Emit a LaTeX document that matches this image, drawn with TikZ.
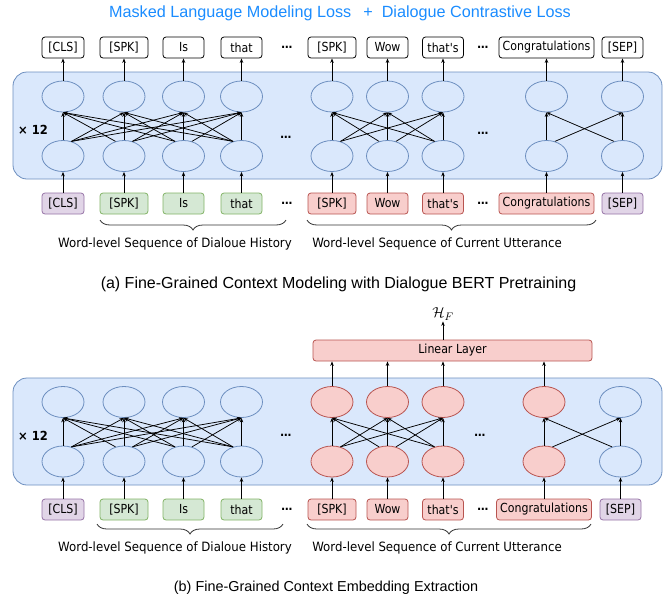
\documentclass[tikz,border=0pt]{standalone}
\usepackage{fontspec}
\setmainfont{Liberation Sans}
\newfontfamily\lbl[FakeStretch=0.92]{DejaVu Sans}
\newfontfamily\lbltok[FakeStretch=0.88]{DejaVu Sans}
\usetikzlibrary{shapes.geometric,arrows.meta,decorations.pathreplacing}
\definecolor{bfill}{HTML}{DAE8FC}
\definecolor{bline}{HTML}{6C8EBF}
\definecolor{rfill}{HTML}{F8CECC}
\definecolor{rline}{HTML}{B85450}
\definecolor{gfill}{HTML}{D5E8D4}
\definecolor{gline}{HTML}{82B366}
\definecolor{pfill}{HTML}{E1D5E7}
\definecolor{pline}{HTML}{9673A6}
\definecolor{ttl}{HTML}{1A8CFF}
\begin{document}
\begin{tikzpicture}[x=1pt,y=-1pt,
  panel/.style={draw=bline,fill=bfill,line width=0.8pt,rounded corners=14},
  cell/.style={ellipse,draw=bline,fill=bfill,line width=0.8pt,minimum width=42,minimum height=31,inner sep=0},
  rcell/.style={cell,draw=rline,fill=rfill},
  tok/.style={rectangle,rounded corners=3,line width=0.8pt,minimum height=21,inner sep=1,font=\lbltok\fontsize{12.5}{12.5}\selectfont},
  wtok/.style={tok,draw=black,fill=white},
  gtok/.style={tok,draw=gline,fill=gfill},
  ptok/.style={tok,draw=pline,fill=pfill},
  rtok/.style={tok,draw=rline,fill=rfill},
  arr/.style={-{Stealth[length=4.5pt,width=3.5pt]},line width=0.75pt},
  dots/.style={font=\lbl\bfseries\fontsize{12}{12}\selectfont,inner sep=0},
  lab/.style={font=\lbl\fontsize{12.8}{12.8}\selectfont,inner sep=0},
  brc/.style={decorate,decoration={brace,amplitude=10pt,mirror,aspect=0.5},line width=0.8pt,draw=black!80},
  captxt/.style={inner sep=0}
]
\useasboundingbox (0,0) rectangle (667,603);

% ================= (a) =================
\node[font=\fontsize{16.2}{16.2}\selectfont,text=ttl,inner sep=0] (title) at (340,13)
  {Masked Language Modeling Loss\hspace{12pt}+\hspace{9pt}Dialogue Contrastive Loss};

\draw[panel] (13,72) rectangle (662,179);
\node[font=\lbl\bfseries\fontsize{12.5}{12.5}\selectfont,inner sep=0] (a-x) at (33,130) {× 12};

\foreach \i/\x/\w/\t/\s in {1/63/42/[CLS]/ptok,2/124/48/[SPK]/gtok,3/183.5/41/Is/gtok,4/241.5/41/that/gtok,
  5/332/48/[SPK]/rtok,6/387.5/41/Wow/rtok,7/443/41/that's/rtok,8/546.5/95/Congratulations/rtok,9/622.5/41/[SEP]/ptok}{
  \node[wtok,minimum width=\w] (a-out-\i) at (\x,47.5) {\t};
  \node[cell] (a-up-\i) at (\x,96.5) {};
  \node[cell] (a-lo-\i) at (\x,156) {};
  \node[\s,minimum width=\w] (a-in-\i) at (\x,203.5) {\t};
  \draw[arr] (a-in-\i) -- (a-lo-\i);
  \draw[arr] (a-up-\i) -- (a-out-\i);
}
\foreach \i in {1,...,4}{\foreach \j in {1,...,4}{
  \ifnum\i=\j \draw[arr] (a-lo-\i.north) -- (a-up-\j.south);
  \else\ifnum\j>\i \draw[arr] (a-lo-\i.60) -- (a-up-\j.south);
  \else \draw[arr] (a-lo-\i.120) -- (a-up-\j.south);\fi\fi}}
\foreach \i in {5,...,7}{\foreach \j in {5,...,7}{
  \ifnum\i=\j \draw[arr] (a-lo-\i.north) -- (a-up-\j.south);
  \else\ifnum\j>\i \draw[arr] (a-lo-\i.60) -- (a-up-\j.south);
  \else \draw[arr] (a-lo-\i.120) -- (a-up-\j.south);\fi\fi}}
\foreach \i in {8,9}{\foreach \j in {8,9}{
  \ifnum\i=\j \draw[arr] (a-lo-\i.north) -- (a-up-\j.south);
  \else\ifnum\j>\i \draw[arr] (a-lo-\i.60) -- (a-up-\j.south);
  \else \draw[arr] (a-lo-\i.120) -- (a-up-\j.south);\fi\fi}}

\node[dots] (a-d1) at (287,47.5) {…};
\node[dots] (a-d2) at (483,47.5) {…};
\node[dots] (a-d3) at (286,137) {…};
\node[dots] (a-d4) at (483,133) {…};
\node[dots] (a-d5) at (287,203.5) {…};
\node[dots] (a-d6) at (483,203.5) {…};

\coordinate (a-b1s) at (100,220); \coordinate (a-b1e) at (286,220);
\coordinate (a-b2s) at (307,220); \coordinate (a-b2e) at (596,220);
\draw[brc] (a-b1s) -- (a-b1e);
\draw[brc] (a-b2s) -- (a-b2e);
\node[lab] (a-l1) at (175,244) {Word-level Sequence of Dialoue History};
\node[lab] (a-l2) at (437,244) {Word-level Sequence of Current Utterance};

\node[captxt,font=\fontsize{16}{16}\selectfont] (a-cap) at (338.5,284) {(a) Fine-Grained Context Modeling with Dialogue BERT Pretraining};

% ================= (b) =================
\node[rtok,minimum width=279] (lin) at (452.5,350.5) {Linear Layer};
\node[inner sep=1,font=\fontsize{15}{15}\selectfont] (hf) at (443,314) {$\mathcal{H}_F$};
\draw[arr] (lin.north -| hf) -- (hf.south);

\draw[panel] (13,378) rectangle (662,485);
\node[font=\lbl\bfseries\fontsize{12.5}{12.5}\selectfont,inner sep=0] (b-x) at (33,436) {× 12};

\foreach \i/\x/\w/\t/\s/\c in {1/63/42/[CLS]/ptok/cell,2/124/48/[SPK]/gtok/cell,3/183.5/41/Is/gtok/cell,4/241.5/41/that/gtok/cell,
  5/332/48/[SPK]/rtok/rcell,6/387.5/41/Wow/rtok/rcell,7/443/41/that's/rtok/rcell,8/544/95/Congratulations/rtok/rcell,9/620.5/41/[SEP]/ptok/cell}{
  \node[\c] (b-up-\i) at (\x,402) {};
  \node[\c] (b-lo-\i) at (\x,461.5) {};
  \node[\s,minimum width=\w] (b-in-\i) at (\x,509.5) {\t};
  \draw[arr] (b-in-\i) -- (b-lo-\i);
}
\foreach \i in {5,...,8}{\draw[arr] (b-up-\i.north) -- (b-up-\i.north |- lin.south);}
\foreach \i in {1,...,4}{\foreach \j in {1,...,4}{
  \ifnum\i=\j \draw[arr] (b-lo-\i.north) -- (b-up-\j.south);
  \else\ifnum\j>\i \draw[arr] (b-lo-\i.60) -- (b-up-\j.south);
  \else \draw[arr] (b-lo-\i.120) -- (b-up-\j.south);\fi\fi}}
\foreach \i in {5,...,7}{\foreach \j in {5,...,7}{
  \ifnum\i=\j \draw[arr] (b-lo-\i.north) -- (b-up-\j.south);
  \else\ifnum\j>\i \draw[arr] (b-lo-\i.60) -- (b-up-\j.south);
  \else \draw[arr] (b-lo-\i.120) -- (b-up-\j.south);\fi\fi}}
\foreach \i in {8,9}{\foreach \j in {8,9}{
  \ifnum\i=\j \draw[arr] (b-lo-\i.north) -- (b-up-\j.south);
  \else\ifnum\j>\i \draw[arr] (b-lo-\i.60) -- (b-up-\j.south);
  \else \draw[arr] (b-lo-\i.120) -- (b-up-\j.south);\fi\fi}}

\node[dots] (b-d3) at (286,435) {…};
\node[dots] (b-d4) at (480,435) {…};
\node[dots] (b-d5) at (287,509.5) {…};
\node[dots] (b-d6) at (483,509.5) {…};

\coordinate (b-b1s) at (97,524); \coordinate (b-b1e) at (283,524);
\coordinate (b-b2s) at (307,524); \coordinate (b-b2e) at (591,524);
\draw[brc] (b-b1s) -- (b-b1e);
\draw[brc] (b-b2s) -- (b-b2e);
\node[lab] (b-l1) at (175,548) {Word-level Sequence of Dialoue History};
\node[lab] (b-l2) at (437,548) {Word-level Sequence of Current Utterance};

\node[captxt,font=\fontsize{14.4}{14.4}\selectfont] (b-cap) at (326,588) {(b) Fine-Grained Context Embedding Extraction};
\end{tikzpicture}
\end{document}
